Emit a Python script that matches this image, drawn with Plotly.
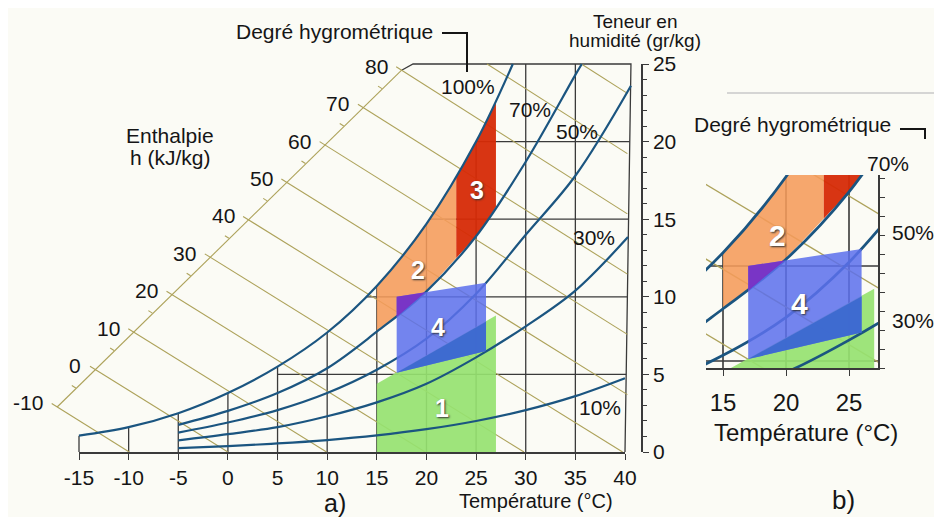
import plotly.graph_objects as go

# ---------------- values ----------------
temp_ticks = [-15, -10, -5, 0, 5, 10, 15, 20, 25, 30, 35, 40]
temp_ticktext = ["-15", "-10", "-5", "0", "5", "10", "15", "20", "25", "30", "35", "40"]
hum_ticks = [0, 5, 10, 15, 20, 25]
enthalpy_ticks = [-10, 0, 10, 20, 30, 40, 50, 60, 70, 80]
enthalpy_top = [90, 100]
zoom_ticks = [15, 20, 25]

rh_labels = ["100%", "70%", "50%", "30%", "10%"]
rh100_T = [-15, -10, -5, 0, 5, 10, 15, 20, 25, 28.7]
rh100_w = [1.05, 1.6, 2.5, 3.8, 5.5, 7.7, 10.7, 14.7, 20.0, 25.0]
rh70_T = [-5, 0, 5, 10, 15, 20, 25, 30, 35, 35.65]
rh70_w = [1.75, 2.65, 3.8, 5.4, 7.75, 10.35, 13.9, 18.7, 24.3, 25.0]
rh50_T = [-5, 0, 5, 10, 15, 20, 25, 30, 35, 40.6]
rh50_w = [1.25, 1.9, 2.7, 3.8, 5.3, 7.3, 10.2, 14.0, 17.8, 23.6]
rh30_T = [-5, 0, 5, 10, 15, 20, 25, 30, 35, 40.3]
rh30_w = [0.75, 1.15, 1.6, 2.3, 3.2, 4.4, 6.1, 8.1, 10.4, 13.85]
rh10_T = [-5, 0, 5, 10, 15, 20, 25, 30, 35, 40]
rh10_w = [0.25, 0.38, 0.55, 0.77, 1.07, 1.47, 2.0, 2.7, 3.6, 4.75]

hgrid_levels = [5, 10, 15, 20]
hgrid_start = [5.0, 14.0, 20.3, 25.0]

zone_names = ["1", "2", "3", "4"]
zone1_T = [15, 27]
zone1_top = [4.4, 8.8]
zone2_T = [15, 17, 19, 21, 23]
zone2_low = [7.75, 8.7, 9.8, 11.1, 12.5]
zone2_high = [10.7, 12.1, 13.8, 15.6, 17.7]
zone3_T = [23, 24, 25, 26, 27]
zone3_low = [12.5, 13.2, 13.9, 14.8, 15.8]
zone3_high = [17.7, 18.8, 20.0, 21.3, 22.5]
zone4_T = [17, 26, 26, 17]
zone4_w = [10.0, 10.9, 6.5, 5.1]
zone24_T = [17, 17, 19.9, 19, 18]      # overlap orange / blue (purple)
zone24_w = [8.7, 10.0, 10.29, 9.8, 9.25]
zone14_T = [17, 26, 26]                # overlap green / blue
zone14_w = [5.1, 6.5, 8.4]

# ---------------- geometry / style ----------------
OFF = 8                         # the page places the figure 8 px from the corner
W, H = 942, 517
WF, HF = W - OFF, H - OFF       # figure size


def fx(px):
    return (px - OFF) / WF


def fy(py):
    return 1 - (py - OFF) / HF


X0PX, X40PX = 79, 625          # pixel of -15 and 40 °C
Y0PX, Y25PX = 452, 64          # pixel of 0 and 25 g/kg
pxT = (X40PX - X0PX) / 55.0
pxW = (Y0PX - Y25PX) / 25.0
full_x = [-15 + (OFF - X0PX) / pxT, -15 + (W - X0PX) / pxT]
full_y = [-(H - Y0PX) / pxW, (Y0PX - OFF) / pxW]

# zoom panel b)
B_L, B_R, B_B, B_T = 706, 878, 368, 175
bpxT, bpxW = 12.6, 19.0
b_x = [15 - (723 - B_L) / bpxT, 15 + (B_R - 723) / bpxT]
b_y = [10 - (B_B - 266) / bpxW, 10 + (266 - B_T) / bpxW]

FONT = "Liberation Sans, Arial, sans-serif"
BG = "#fbfbf5"
GRID = "#3a3a3a"
ENTH = "#ada25a"
CURVE = "#1b5580"
GREEN = "rgba(150,226,112,0.92)"
ORANGE = "rgba(245,155,90,0.88)"
RED = "rgba(214,42,6,0.95)"
BLUE = "rgba(92,112,236,0.86)"
PURPLE = "rgba(122,48,196,0.92)"
DBLUE = "rgba(58,104,206,0.9)"
FS = 21

# enthalpy axis (straight scale line) end points in chart coordinates
AX_T = [-17.2, 17.5]
AX_W = [2.9, 24.6]


def axis_point(h):
    f = (h - enthalpy_ticks[0]) / (enthalpy_ticks[-1] - enthalpy_ticks[0])
    return AX_T[0] + f * (AX_T[1] - AX_T[0]), AX_W[0] + f * (AX_W[1] - AX_W[0])


def frame_T(w):
    return 40 + 0.6 * w / 25.0


def h_end(h):
    # end of a constant-enthalpy line on the frame
    if h <= 40.2:
        return h / 1.006, 0.0
    Te = frame_T(10)
    return Te, (h - 1.006 * Te) / (2.501 + 0.00186 * Te)


fig = go.Figure()


def add(tr, xa, ya):
    tr.update(xaxis=xa, yaxis=ya, showlegend=False, hoverinfo="skip")
    fig.add_trace(tr)


def content(xa, ya, s=1.0):
    # grid
    gx, gy = [], []
    for T in temp_ticks[:-1]:
        top = rh100_w[rh100_T.index(T)] if T in rh100_T else 25
        gx += [T, T, None]
        gy += [0, top, None]
    for lv, st in zip(hgrid_levels, hgrid_start):
        gx += [st, frame_T(lv), None]
        gy += [lv, lv, None]
    # frame
    hT, hW = axis_point(80)
    gx += [40, frame_T(25), 18.65, hT, None]
    gy += [0, 25, 25, hW, None]
    add(go.Scatter(x=gx, y=gy, mode="lines", line=dict(color=GRID, width=1.3 * s)), xa, ya)

    # enthalpy lines + scale
    ex, ey = [], []
    for h in enthalpy_ticks:
        a, b = axis_point(h)
        e1, e2 = h_end(h)
        ex += [a - 0.55, e1, None]
        ey += [b + 0.22, e2, None]
    for h in enthalpy_top:
        t0 = (h - 62.525) / 1.0525
        e1, e2 = h_end(h)
        ex += [t0, e1, None]
        ey += [25, e2, None]
    for h in enthalpy_ticks[:-1]:
        a, b = axis_point(h + 5)
        ex += [a - 0.45, a - 0.05, None]
        ey += [b + 0.18, b + 0.02, None]
    ex += [AX_T[0], AX_T[1]]
    ey += [AX_W[0], AX_W[1]]
    add(go.Scatter(x=ex, y=ey, mode="lines", line=dict(color=ENTH, width=1.1 * s)), xa, ya)

    # zone 1 (green)
    add(go.Scatter(x=zone1_T, y=zone1_top, mode="lines", fill="tozeroy",
                   fillcolor=GREEN, line=dict(width=0)), xa, ya)
    # zone 2 (orange)
    add(go.Scatter(x=zone2_T, y=zone2_low, mode="lines", line=dict(width=0, shape="spline")), xa, ya)
    add(go.Scatter(x=zone2_T, y=zone2_high, mode="lines", fill="tonexty", fillcolor=ORANGE,
                   line=dict(width=0, shape="spline")), xa, ya)
    # zone 3 (red)
    add(go.Scatter(x=zone3_T, y=zone3_low, mode="lines", line=dict(width=0, shape="spline")), xa, ya)
    add(go.Scatter(x=zone3_T, y=zone3_high, mode="lines", fill="tonexty", fillcolor=RED,
                   line=dict(width=0, shape="spline")), xa, ya)

    # humidity curves
    for T, w in [(rh100_T, rh100_w), (rh70_T, rh70_w), (rh50_T, rh50_w),
                 (rh30_T, rh30_w), (rh10_T, rh10_w)]:
        add(go.Scatter(x=T, y=w, mode="lines",
                       line=dict(color=CURVE, width=2.2 * s, shape="spline", smoothing=1.0)), xa, ya)

    # zone 4 (blue) and overlaps
    add(go.Scatter(x=zone4_T, y=zone4_w, mode="lines", fill="toself", fillcolor=BLUE,
                   line=dict(width=0)), xa, ya)
    add(go.Scatter(x=zone24_T, y=zone24_w, mode="lines", fill="toself", fillcolor=PURPLE,
                   line=dict(width=0)), xa, ya)
    add(go.Scatter(x=zone14_T, y=zone14_w, mode="lines", fill="toself", fillcolor=DBLUE,
                   line=dict(width=0)), xa, ya)


content("x", "y", 1.0)
add(go.Scatter(x=[None], y=[None], mode="lines"), "x2", "y2")
content("x3", "y3", 1.25)

annotations = []


def ptext(x, y, text, size=FS, xanchor="center", color="#151515", **kw):
    annotations.append(dict(x=fx(x), y=fy(y), xref="paper", yref="paper", text=text,
                            showarrow=False, xanchor=xanchor, yanchor="middle",
                            font=dict(family=FONT, size=size, color=color), **kw))


# enthalpy tick labels
for h in enthalpy_ticks:
    a, b = axis_point(h)
    annotations.append(dict(x=a, y=b, xref="x", yref="y", text=str(h), showarrow=False,
                            xanchor="right", yanchor="middle", xshift=-12, yshift=4,
                            font=dict(family=FONT, size=FS, color="#151515")))

# humidity labels in a)
rh_pos = [(24.19, 23.52), (30.43, 22.04), (35.17, 20.62), (36.88, 13.79), (37.48, 2.84)]
for lab, (t, w) in zip(rh_labels, rh_pos):
    annotations.append(dict(x=t, y=w, xref="x", yref="y", text=lab, showarrow=False,
                            xanchor="center", yanchor="middle",
                            font=dict(family=FONT, size=FS, color="#151515")))

# zone numbers
zone_pos_a = [(21.6, 2.85), (19.1, 11.7), (25.1, 16.9), (21.2, 8.05)]
for n, (t, w) in zip(zone_names, zone_pos_a):
    annotations.append(dict(x=t, y=w, xref="x", yref="y", text="<b>%s</b>" % n, showarrow=False,
                            font=dict(family=FONT, size=25, color="white", shadow="1px 1px 2px #333")))
zone_pos_b = {"2": (19.3, 11.6), "4": (21.1, 8.05)}
for n, (t, w) in zone_pos_b.items():
    annotations.append(dict(x=t, y=w, xref="x3", yref="y3", text="<b>%s</b>" % n, showarrow=False,
                            font=dict(family=FONT, size=30, color="white", shadow="1px 1px 2px #333")))

# titles / texts
ptext(334, 32, "Degré hygrométrique")
ptext(170, 135, "Enthalpie")
ptext(170, 157, "h (kJ/kg)")
ptext(635, 21, "Teneur en", size=19)
ptext(635, 41, "humidité (gr/kg)", size=19)
ptext(536, 501, "Température (°C)", size=20)
ptext(335, 503, "a)", size=25)
ptext(792, 125, "Degré hygrométrique")
ptext(888, 163, "70%", size=21)
ptext(913, 233, "50%", size=21)
ptext(913, 320, "30%", size=21)
ptext(806, 432, "Température (°C)", size=24)
ptext(843, 500, "b)", size=26)


def pline(pts, color="#151515", width=2):
    path = "M " + " L ".join("%f,%f" % (fx(x), fy(y)) for x, y in pts)
    return dict(type="path", xref="paper", yref="paper", path=path,
                line=dict(color=color, width=width))


shapes = [
    pline([(442, 33), (467, 33), (467, 72)]),
    pline([(900, 129), (925, 129), (925, 139)]),
    pline([(727, 93), (942, 93)], color="#c9c9c9", width=1.5),
]

ax_common = dict(automargin=False, showgrid=False, zeroline=False, fixedrange=True)

fig.update_layout(
    template="none",
    width=WF, height=HF, autosize=False,
    margin=dict(l=0, r=0, t=0, b=0, pad=0, autoexpand=False),
    paper_bgcolor=BG, plot_bgcolor="rgba(0,0,0,0)",
    showlegend=False,
    annotations=annotations,
    shapes=shapes,
    xaxis=dict(domain=[0, 1], range=full_x, visible=False, **ax_common),
    yaxis=dict(domain=[0, 1], range=full_y, visible=False, **ax_common),
    xaxis2=dict(domain=[fx(X0PX), fx(X40PX)], range=[-15, 40], anchor="y2",
                showline=True, linecolor=GRID, linewidth=1.5, ticks="outside", ticklen=6,
                tickcolor=GRID, tickvals=temp_ticks, ticktext=temp_ticktext,
                tickfont=dict(family=FONT, size=FS, color="#151515"), **ax_common),
    yaxis2=dict(domain=[fy(Y0PX), fy(Y25PX)], range=[0, 25], anchor="free",
                position=fx(642), side="right", showline=True, linecolor=GRID, linewidth=1.5,
                ticks="outside", ticklen=6, tickcolor=GRID, tickvals=hum_ticks,
                minor=dict(dtick=1, ticks="outside", ticklen=4, tickcolor=GRID),
                tickfont=dict(family=FONT, size=FS, color="#151515"), **ax_common),
    xaxis3=dict(domain=[fx(B_L), fx(B_R)], range=b_x, anchor="y3",
                showline=True, linecolor=GRID, linewidth=1.6, ticks="outside", ticklen=6,
                tickcolor=GRID, tickvals=zoom_ticks, ticklabelstandoff=6,
                tickfont=dict(family=FONT, size=24, color="#151515"), **ax_common),
    yaxis3=dict(domain=[fy(B_B), fy(B_T)], range=b_y, anchor="x3", side="right",
                showline=True, linecolor=GRID, linewidth=1.6, ticks="outside", ticklen=5,
                tickcolor=GRID, tick0=b_y[0], dtick=1, showticklabels=False, **ax_common),
)

fig.write_html("out.html", config={"displayModeBar": False})
